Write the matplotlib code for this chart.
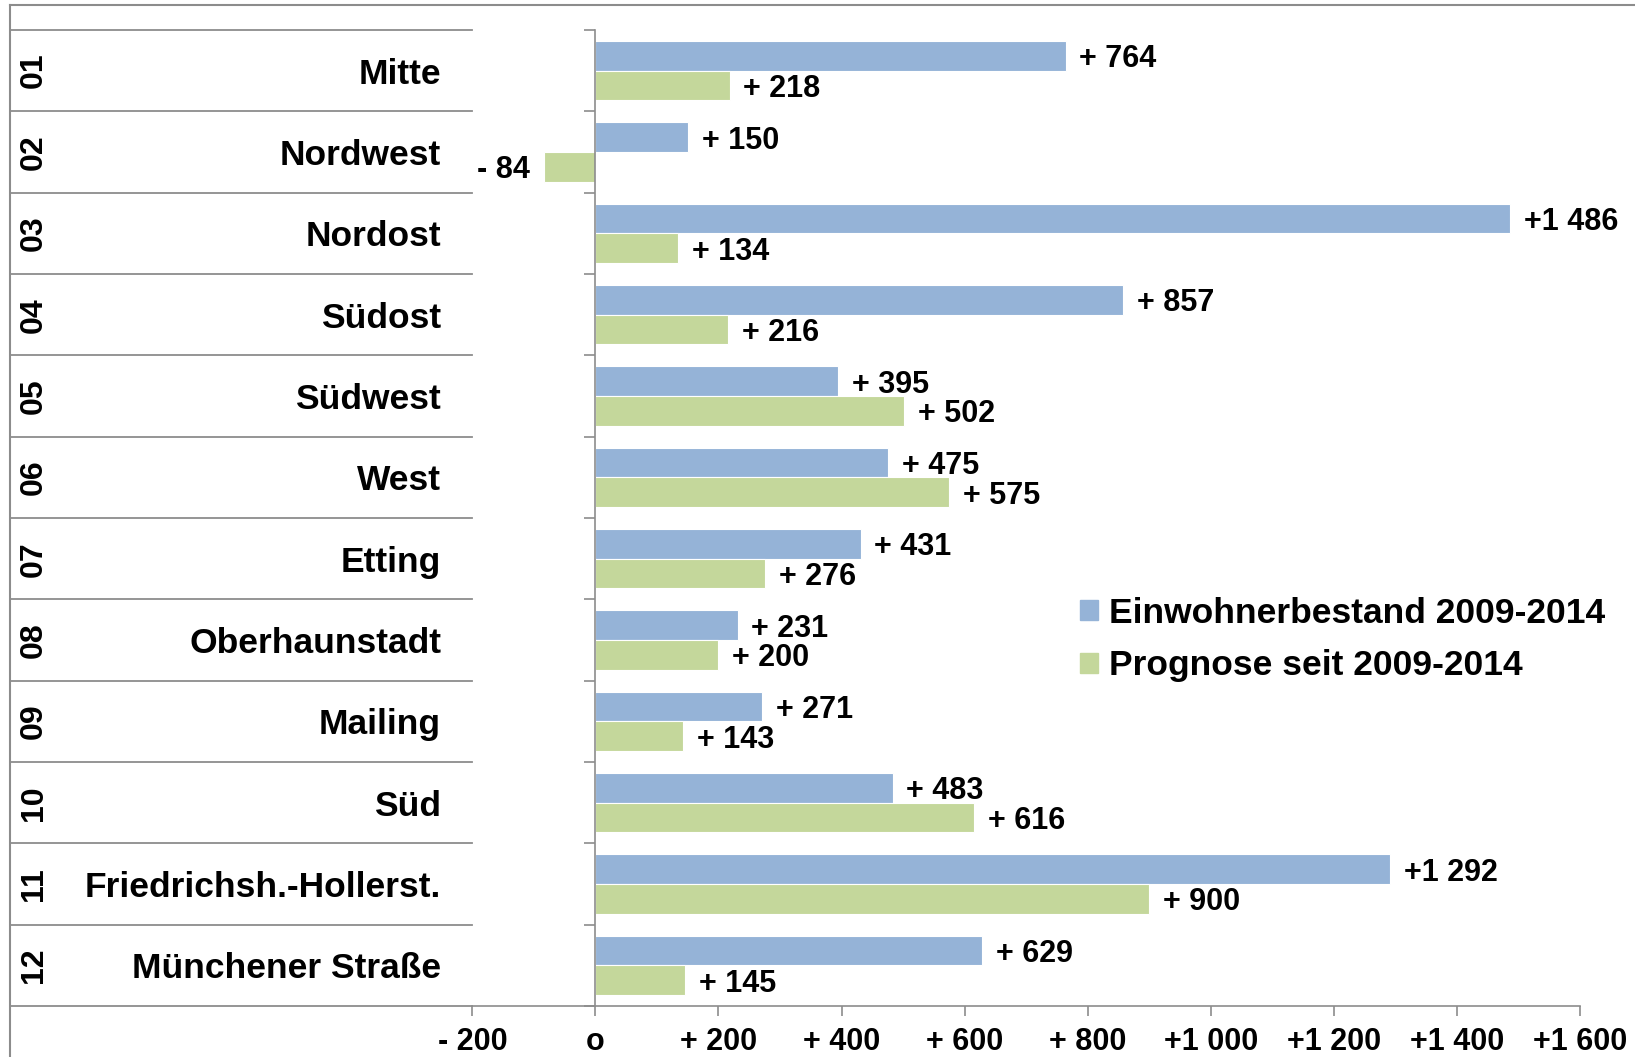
import matplotlib
matplotlib.use("Agg")
import matplotlib.pyplot as plt
import matplotlib.transforms as mtransforms
from matplotlib.lines import Line2D
from matplotlib.patches import Patch
import numpy as np

plt.rcParams["font.family"] = ["Liberation Sans", "DejaVu Sans"]
plt.rcParams["font.weight"] = "bold"

# --- data -------------------------------------------------------------
codes = ["01", "02", "03", "04", "05", "06", "07", "08", "09", "10", "11", "12"]
districts = ["Mitte", "Nordwest", "Nordost", "Südost", "Südwest", "West",
             "Etting", "Oberhaunstadt", "Mailing", "Süd",
             "Friedrichsh.-Hollerst.", "Münchener Straße"]
bestand = [764, 150, 1486, 857, 395, 475, 431, 231, 271, 483, 1292, 629]
prognose = [218, -84, 134, 216, 502, 575, 276, 200, 143, 616, 900, 145]
series_labels = ["Einwohnerbestand 2009-2014", "Prognose seit 2009-2014"]
xticks = [-200, 0, 200, 400, 600, 800, 1000, 1200, 1400, 1600]

BLUE = "#95b3d7"
GREEN = "#c4d79b"
GRAY = "#8c8c8c"


def fmt(v):
    if v == 0:
        return "o"
    sign = "+" if v > 0 else "-"
    a = abs(v)
    if a >= 1000:
        return f"{sign}{a // 1000} {a % 1000:03d}"
    return f"{sign} {a}"


fig = plt.figure(figsize=(16.35, 10.57), dpi=100)
ax = fig.add_axes([0.2889, 0.0482, 0.6774, 0.9234])

y = np.arange(len(districts))
h = 0.365
ax.barh(y - h / 2, bestand, height=h, color=BLUE, edgecolor="white", linewidth=0.8)
ax.barh(y + h / 2, prognose, height=h, color=GREEN, edgecolor="white", linewidth=0.8)

# value labels next to the bar ends
for offs, vals in [(-h / 2, bestand), (h / 2, prognose)]:
    for yi, v in zip(y + offs, vals):
        ax.annotate(fmt(v), (v, yi), xytext=(10 if v >= 0 else -10, 0),
                    textcoords="offset points", va="center_baseline",
                    ha="left" if v >= 0 else "right", fontsize=22, fontweight="bold")

ax.set_xlim(-200, 1600)
ax.set_ylim(len(districts) - 0.5, -0.5)

# axes styling: only bottom axis and a zero line
for s in ["top", "right"]:
    ax.spines[s].set_visible(False)
ax.spines["left"].set_position(("data", 0))
ax.spines["left"].set_color(GRAY)
ax.spines["left"].set_linewidth(1.2)
ax.spines["bottom"].set_color(GRAY)
ax.spines["bottom"].set_linewidth(1.2)

ax.set_xticks(xticks)
ax.set_xticklabels([fmt(t) for t in xticks], fontsize=22, fontweight="bold")
ax.tick_params(axis="x", direction="out", length=7, width=1.2, color=GRAY, pad=8)
ax.set_yticks(np.arange(-0.5, len(districts), 1.0))
ax.set_yticklabels([])
ax.tick_params(axis="y", direction="out", length=8, width=1.2, color=GRAY)

# table on the left: row separators, codes, names
blend = mtransforms.blended_transform_factory(fig.transFigure, ax.transData)
for b in np.arange(-0.5, len(districts), 1.0):
    ax.add_line(Line2D([0.0064, 0.2889], [b, b], transform=blend,
                       color=GRAY, lw=1.3, clip_on=False))
for yi, c, n in zip(y, codes, districts):
    ax.text(0.0205, yi, c, transform=blend, rotation=90, ha="center", va="center",
            fontsize=23, fontweight="bold")
    ax.text(0.2698, yi, n, transform=blend, ha="right", va="center_baseline",
            fontsize=25.5, fontweight="bold")

# outer frame (top and left)
fig.add_artist(Line2D([0.0064, 1.0], [0.9951, 0.9951], transform=fig.transFigure,
                      color=GRAY, lw=1.5))
fig.add_artist(Line2D([0.0064, 0.0064], [0.0, 0.9951], transform=fig.transFigure,
                      color=GRAY, lw=1.5))

handles = [Patch(color=BLUE), Patch(color=GREEN)]
fig.legend(handles, series_labels, loc="center left",
           bbox_to_anchor=(0.652, 0.395), frameon=False,
           prop={"weight": "bold", "size": 25.5}, handlelength=0.5, handleheight=0.5,
           handletextpad=0.3, labelspacing=0.55, borderaxespad=0)

fig.savefig("out.png", dpi=100)
